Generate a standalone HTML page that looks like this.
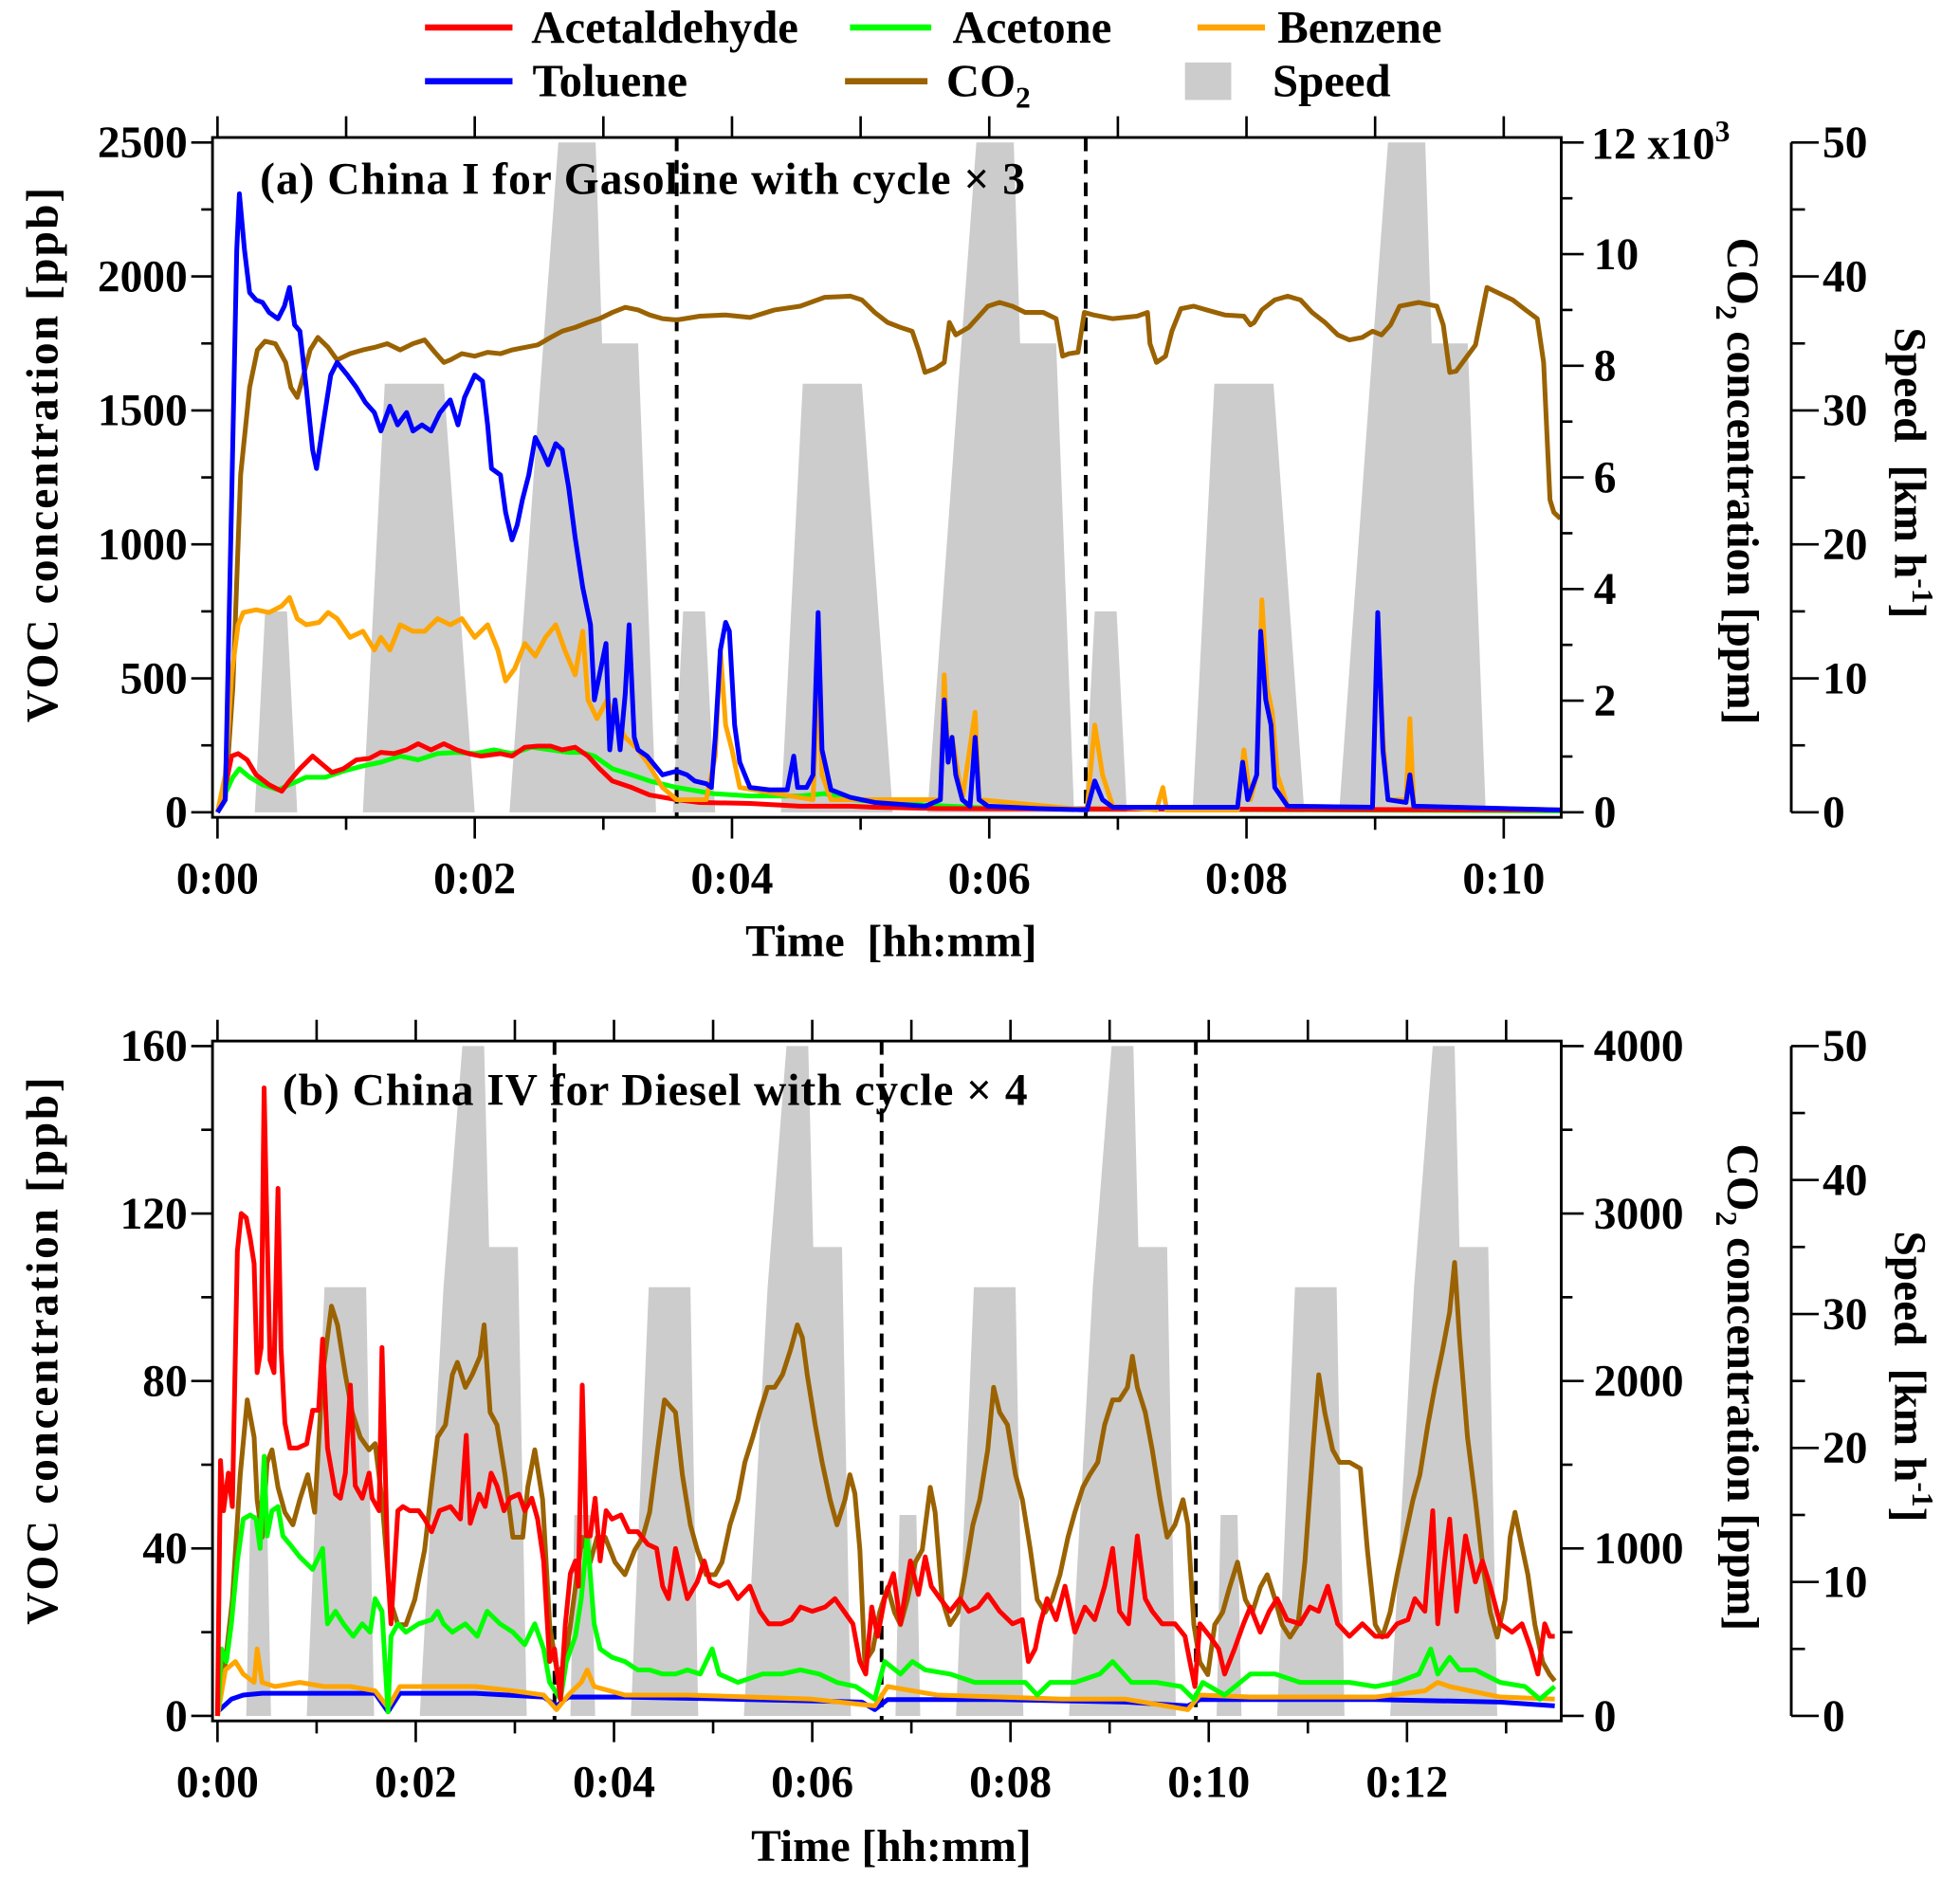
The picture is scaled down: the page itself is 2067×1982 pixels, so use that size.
<!DOCTYPE html>
<html><head><meta charset="utf-8"><style>
html,body{margin:0;padding:0;background:#fff;}
svg{display:block;font-family:"Liberation Serif",serif;font-weight:bold;}
</style></head><body>
<svg id="chart" xmlns="http://www.w3.org/2000/svg" width="2067" height="1982" viewBox="0 0 1568 1503.5" preserveAspectRatio="none">
<g id="speedA"></g>
<g id="speedB"></g>
<g id="linesA"></g>
<g id="linesB"></g>
<g id="axes"></g>
<g font-size="37">
 <line x1="340" y1="22" x2="410" y2="22" stroke="#ff0000" stroke-width="5"/>
 <text x="425" y="34">Acetaldehyde</text>
 <line x1="680" y1="22" x2="745" y2="22" stroke="#00ff00" stroke-width="5"/>
 <text x="762" y="34">Acetone</text>
 <line x1="958" y1="22" x2="1012" y2="22" stroke="#ffa500" stroke-width="5"/>
 <text x="1022" y="34">Benzene</text>
 <line x1="340" y1="65" x2="410" y2="65" stroke="#0000ff" stroke-width="5"/>
 <text x="426" y="77">Toluene</text>
 <line x1="676" y1="65" x2="742" y2="65" stroke="#9a6200" stroke-width="5"/>
 <text x="757" y="77">CO<tspan font-size="24" dy="9">2</tspan></text>
 <rect x="948" y="50" width="37" height="30" fill="#cccccc"/>
 <text x="1018" y="77">Speed</text>
</g>
<g font-size="36">
 <text x="208" y="155" textLength="612">(a) China I for Gasoline with cycle × 3</text>
 <text x="226" y="884" textLength="596">(b) China IV for Diesel with cycle × 4</text>
 <text transform="translate(46,364) rotate(-90)" text-anchor="middle" textLength="428">VOC concentration [ppb]</text>
 <text transform="translate(46,1081) rotate(-90)" text-anchor="middle" textLength="438">VOC concentration [ppb]</text>
 <text transform="translate(1382,385) rotate(90)" text-anchor="middle">CO<tspan font-size="24" dy="9">2</tspan><tspan dy="-9"> concentration [ppm]</tspan></text>
 <text transform="translate(1382,1110) rotate(90)" text-anchor="middle">CO<tspan font-size="24" dy="9">2</tspan><tspan dy="-9"> concentration [ppm]</tspan></text>
 <text transform="translate(1516,262) rotate(90)">Speed&#160;&#160;[km h<tspan font-size="24" dy="-14">-1</tspan><tspan dy="14">]</tspan></text>
 <text transform="translate(1516,985) rotate(90)">Speed&#160;&#160;[km h<tspan font-size="24" dy="-14">-1</tspan><tspan dy="14">]</tspan></text>
 <text x="713" y="765" text-anchor="middle">Time&#160;&#160;[hh:mm]</text>
 <text x="713" y="1489" text-anchor="middle">Time [hh:mm]</text>
 <text x="1273" y="127">12 x10<tspan font-size="24" dy="-14">3</tspan></text>
</g>
</svg>
<script>
// ---------- Panel A data (time in minutes) ----------
const aSpeedT=[0,0.29,0.37,0.54,0.62,1.13,1.30,1.76,2.00,2.27,2.51,2.65,2.94,2.99,3.27,3.41,3.54,3.62,3.79,3.87,4.38,4.55,5.01,5.25,5.52,5.76,5.90,6.19,6.24,6.52,6.66,6.74,6.82,6.99,7.07,7.58,7.75,8.21,8.45,8.72,8.96,9.10,9.39,9.44,9.72,9.86,10.44];
const aSpeedV=[0,0,15,15,0,0,32,32,0,0,32,50,50,35,35,0,0,15,15,0,0,32,32,0,0,32,50,50,35,35,0,0,15,15,0,0,32,32,0,0,32,50,50,35,35,0,0];
const aToluT=[0,0.06,0.11,0.15,0.17,0.21,0.25,0.30,0.35,0.40,0.47,0.52,0.56,0.60,0.64,0.69,0.74,0.77,0.82,0.88,0.93,1.01,1.08,1.15,1.22,1.27,1.34,1.40,1.47,1.52,1.59,1.66,1.73,1.81,1.87,1.92,2.00,2.06,2.10,2.13,2.20,2.24,2.29,2.33,2.37,2.42,2.47,2.52,2.57,2.63,2.68,2.73,2.78,2.84,2.90,2.93,2.97,3.02,3.05,3.09,3.13,3.17,3.20,3.24,3.27,3.34,3.46,3.57,3.65,3.71,3.80,3.84,3.87,3.91,3.95,3.98,4.02,4.06,4.14,4.29,4.43,4.48,4.51,4.58,4.63,4.67,4.70,4.77,4.92,5.11,5.50,5.62,5.65,5.68,5.71,5.74,5.79,5.85,5.89,5.92,5.99,6.38,6.76,6.82,6.88,6.96,7.93,7.97,8.01,8.08,8.11,8.15,8.19,8.22,8.32,8.98,9.02,9.06,9.10,9.24,9.27,9.30,10.44];
const aToluV=[0,47,1166,2099,2309,2099,1940,1912,1903,1866,1842,1889,1959,1819,1796,1586,1353,1283,1446,1632,1679,1632,1586,1530,1492,1423,1516,1446,1492,1423,1446,1423,1492,1539,1446,1548,1632,1609,1446,1283,1259,1119,1017,1073,1166,1259,1399,1353,1297,1376,1353,1213,1026,839,700,420,513,630,233,420,233,443,700,280,233,210,140,154,140,117,107,93,280,606,709,676,326,187,93,84,84,210,93,93,140,746,233,84,56,37,23,47,420,187,280,140,47,23,280,47,23,14,9,117,47,19,19,187,47,140,676,420,326,93,23,19,746,233,47,37,140,23,9];
const aBenzT=[0,0.06,0.11,0.16,0.20,0.30,0.40,0.50,0.56,0.62,0.69,0.79,0.86,0.93,1.03,1.13,1.22,1.27,1.34,1.42,1.52,1.61,1.71,1.81,1.90,2.00,2.10,2.18,2.24,2.31,2.39,2.47,2.55,2.63,2.70,2.78,2.84,2.88,2.95,3.03,3.09,3.17,3.27,3.34,3.46,3.57,3.80,3.87,3.91,3.95,4.00,4.06,4.63,4.67,4.70,4.77,5.62,5.65,5.68,5.71,5.79,5.89,5.92,6.76,6.82,6.88,6.96,7.30,7.35,7.38,7.93,7.98,8.03,8.08,8.12,8.16,8.20,8.24,8.32,8.98,9.02,9.06,9.10,9.24,9.27,9.30,10.44];
const aBenzV=[0,140,513,700,746,756,746,770,802,723,700,709,746,723,653,676,606,653,606,700,676,676,723,700,723,653,700,606,490,536,630,583,653,700,606,513,676,420,350,420,350,280,233,187,93,47,47,210,606,326,233,93,47,490,140,47,47,513,187,280,47,373,47,9,326,140,23,9,93,9,9,233,47,140,793,466,373,140,23,19,700,280,47,47,350,23,9];
const aAcetaT=[0,0.06,0.11,0.16,0.23,0.30,0.40,0.50,0.56,0.64,0.74,0.82,0.89,0.98,1.08,1.18,1.27,1.37,1.47,1.56,1.66,1.76,1.86,1.95,2.05,2.20,2.29,2.39,2.49,2.59,2.68,2.78,2.88,2.97,3.07,3.22,3.36,3.57,3.75,4.14,4.53,4.92,5.11,5.60,10.44];
const aAcetaV=[0,93,210,219,196,140,103,79,117,163,210,177,149,163,196,201,224,219,233,256,233,256,233,219,210,219,210,243,247,247,233,243,210,163,117,93,65,47,37,33,23,23,19,14,9];
const aAcetoT=[0,0.06,0.12,0.17,0.25,0.35,0.47,0.56,0.69,0.84,0.98,1.13,1.27,1.42,1.56,1.71,1.86,2.00,2.15,2.29,2.44,2.59,2.73,2.83,2.93,3.07,3.22,3.36,3.57,3.85,4.14,4.53,4.72,4.92,5.31,5.69,6.08,10.44];
const aAcetoV=[0,70,131,163,131,103,84,103,131,131,154,173,187,210,196,219,224,219,233,219,243,233,224,224,210,163,140,117,93,70,61,61,70,47,33,23,14,5];
const aCo2T=[0,0.06,0.12,0.18,0.25,0.31,0.37,0.45,0.53,0.57,0.62,0.67,0.72,0.78,0.86,0.93,1.03,1.13,1.22,1.32,1.42,1.52,1.61,1.69,1.76,1.81,1.90,2.00,2.10,2.20,2.29,2.39,2.49,2.59,2.68,2.78,2.88,2.97,3.07,3.17,3.27,3.36,3.46,3.57,3.75,3.95,4.14,4.33,4.53,4.72,4.92,5.01,5.11,5.21,5.31,5.40,5.45,5.50,5.58,5.65,5.69,5.74,5.84,5.99,6.08,6.18,6.28,6.42,6.52,6.57,6.62,6.69,6.74,6.81,6.96,7.15,7.23,7.25,7.30,7.37,7.42,7.49,7.59,7.69,7.83,7.98,8.03,8.06,8.12,8.22,8.32,8.42,8.51,8.61,8.71,8.80,8.90,8.98,9.05,9.12,9.19,9.34,9.48,9.53,9.58,9.63,9.68,9.78,9.87,9.97,10.07,10.17,10.26,10.31,10.36,10.39,10.44];
const aCo2V=[0,224,2239,6045,7613,8284,8441,8396,8060,7613,7433,7837,8284,8508,8329,8105,8217,8284,8329,8396,8284,8396,8463,8240,8060,8105,8217,8172,8240,8217,8284,8329,8374,8508,8620,8687,8777,8844,8956,9046,9001,8911,8844,8822,8889,8911,8866,9001,9068,9225,9247,9180,8956,8777,8687,8620,8284,7881,7949,8060,8777,8553,8687,9068,9135,9068,8956,8956,8844,8172,8217,8240,8956,8911,8844,8889,8956,8396,8060,8172,8620,9023,9068,9001,8911,8889,8732,8777,9001,9180,9247,9180,8956,8777,8553,8463,8508,8620,8553,8732,9068,9135,9068,8732,7881,7904,8060,8374,9404,9292,9180,9001,8844,8060,5598,5374,5262];
const aDashT=[3.57,6.75];
const aTimeLabels=["0:00","0:02","0:04","0:06","0:08","0:10"];
const aVocTicks=["0","500","1000","1500","2000","2500"];
const aCo2Ticks=["0","2","4","6","8","10",""];
const speedTicks=["0","10","20","30","40","50"];

// ---------- Panel B data ----------
const bSpeedT=[0,0.29,0.33,0.50,0.54,0.90,1.08,1.50,1.58,2.04,2.28,2.47,2.69,2.74,3.03,3.12,3.56,3.60,3.77,3.81,4.17,4.35,4.77,4.85,5.31,5.55,5.74,5.96,6.01,6.30,6.39,6.84,6.88,7.05,7.09,7.45,7.63,8.05,8.13,8.59,8.83,9.02,9.24,9.29,9.58,9.67,10.08,10.12,10.29,10.33,10.69,10.87,11.29,11.37,11.83,12.07,12.26,12.48,12.53,12.82,12.91,13.55];
const bSpeedV=[0,0,15,15,0,0,32,32,0,0,32,50,50,35,35,0,0,15,15,0,0,32,32,0,0,32,50,50,35,35,0,0,15,15,0,0,32,32,0,0,32,50,50,35,35,0,0,15,15,0,0,32,32,0,0,32,50,50,35,35,0,0];
const bRedT=[0,0.03,0.06,0.11,0.15,0.20,0.24,0.29,0.33,0.37,0.40,0.44,0.47,0.49,0.53,0.57,0.61,0.64,0.68,0.73,0.81,0.90,0.96,1.02,1.06,1.11,1.19,1.24,1.29,1.34,1.39,1.46,1.53,1.56,1.63,1.66,1.72,1.75,1.82,1.87,1.94,2.03,2.09,2.16,2.24,2.35,2.45,2.51,2.55,2.64,2.70,2.76,2.82,2.89,2.95,3.04,3.10,3.17,3.23,3.29,3.35,3.40,3.46,3.51,3.56,3.61,3.64,3.68,3.72,3.76,3.81,3.86,3.92,3.98,4.07,4.15,4.24,4.34,4.43,4.49,4.55,4.62,4.68,4.74,4.84,4.91,4.97,5.06,5.15,5.25,5.37,5.47,5.56,5.69,5.79,5.88,6.00,6.13,6.23,6.32,6.41,6.48,6.54,6.60,6.66,6.73,6.82,6.89,6.99,7.07,7.14,7.20,7.29,7.39,7.49,7.58,7.67,7.77,7.89,8.02,8.12,8.18,8.25,8.30,8.37,8.46,8.55,8.65,8.75,8.85,8.95,9.03,9.10,9.19,9.28,9.36,9.43,9.53,9.66,9.76,9.81,9.86,9.91,10.01,10.10,10.16,10.26,10.35,10.42,10.52,10.61,10.69,10.79,10.92,11.02,11.11,11.20,11.30,11.42,11.55,11.68,11.80,11.90,12.01,12.08,12.18,12.26,12.31,12.38,12.43,12.50,12.59,12.69,12.76,12.84,12.94,13.06,13.16,13.25,13.32,13.39,13.44,13.49];
const bRedV=[0,61,49,58,50,111,120,119,114,108,82,88,150,126,85,82,126,88,70,64,64,65,73,73,90,64,53,52,58,79,55,52,58,52,49,88,34,22,49,50,49,49,47,44,49,50,47,67,46,53,50,58,55,49,52,53,49,52,47,37,13,16,4,22,34,37,31,79,43,43,52,37,49,47,48,44,44,41,40,31,28,40,34,28,32,37,32,31,32,28,31,25,22,22,23,26,25,26,28,25,22,13,10,26,19,28,34,22,37,29,38,31,28,25,28,25,26,29,25,22,23,13,16,22,28,23,31,20,26,23,31,40,25,22,43,28,25,22,22,19,13,7,22,19,16,10,16,22,26,20,25,28,23,22,26,25,31,22,19,22,19,19,22,23,28,25,49,22,37,47,25,43,32,37,31,22,20,22,16,10,22,19,19];
const bGreenT=[0,0.04,0.09,0.14,0.20,0.26,0.33,0.39,0.43,0.47,0.50,0.55,0.61,0.66,0.73,0.83,0.96,1.06,1.11,1.19,1.27,1.37,1.46,1.54,1.59,1.66,1.72,1.75,1.82,1.90,2.03,2.16,2.22,2.28,2.37,2.50,2.62,2.72,2.85,2.98,3.10,3.20,3.29,3.35,3.46,3.52,3.61,3.67,3.73,3.80,3.86,3.98,4.11,4.24,4.36,4.49,4.62,4.74,4.87,4.99,5.06,5.25,5.50,5.69,5.88,6.07,6.25,6.44,6.57,6.63,6.73,6.89,7.01,7.14,7.39,7.64,7.89,8.15,8.27,8.40,8.65,8.90,9.03,9.22,9.47,9.72,9.85,9.94,10.16,10.42,10.67,10.92,11.17,11.42,11.68,11.90,12.12,12.24,12.31,12.43,12.53,12.69,12.94,13.19,13.34,13.49];
const bGreenV=[0,16,13,22,37,47,48,47,40,62,43,49,50,43,41,38,35,40,22,25,22,19,22,20,28,25,1,19,22,20,22,23,25,22,20,22,19,25,22,20,17,22,16,8,4,13,19,28,43,22,16,14,13,11,11,10,10,11,10,16,10,8,10,10,11,10,8,7,5,4,13,10,13,11,10,8,8,8,5,8,8,10,13,8,8,7,4,8,5,10,10,8,8,8,7,8,10,16,10,14,11,11,8,7,4,7];
const bOrangeT=[0,0.08,0.18,0.26,0.37,0.40,0.45,0.58,0.83,1.08,1.34,1.59,1.72,1.84,2.22,2.60,2.98,3.29,3.42,3.54,3.67,3.73,3.80,4.11,4.74,5.37,6.00,6.63,6.76,7.26,7.89,8.52,9.16,9.79,9.91,10.42,11.05,11.68,12.18,12.31,12.43,12.94,13.49];
const bOrangeV=[0,11,13,10,8,16,8,7,8,7,7,6,2,7,7,7,6,5,1.5,5,8,11,7,5,5,4.5,4,2.4,7,5,4.5,4,4,1.5,5,4.5,4.5,4.5,6,8,7,4.5,4];
const bBlueT=[0,0.14,0.26,0.45,0.83,1.59,1.72,1.84,2.60,3.29,3.42,3.54,4.11,5.37,6.50,6.63,6.76,7.89,9.16,9.79,9.91,11.68,12.94,13.49];
const bBlueV=[1,4,5,5.4,5.4,5.4,1,5.4,5.4,4.5,2.4,4.5,4.5,3.9,3.3,1.5,3.9,3.9,3.3,2.4,3.9,3.9,3.3,2.4];
const bCo2T=[0,0.08,0.15,0.23,0.30,0.37,0.40,0.45,0.50,0.55,0.61,0.68,0.76,0.83,0.91,0.98,1.06,1.15,1.21,1.29,1.36,1.44,1.53,1.59,1.66,1.74,1.82,1.90,1.99,2.09,2.16,2.22,2.30,2.37,2.42,2.50,2.57,2.65,2.69,2.75,2.82,2.90,2.98,3.08,3.13,3.20,3.28,3.35,3.43,3.51,3.61,3.68,3.76,3.83,3.91,4.01,4.11,4.21,4.29,4.36,4.44,4.51,4.62,4.69,4.77,4.84,4.93,5.02,5.09,5.17,5.25,5.32,5.40,5.47,5.55,5.62,5.70,5.78,5.85,5.90,5.95,6.03,6.10,6.18,6.25,6.33,6.38,6.43,6.48,6.53,6.61,6.68,6.76,6.83,6.89,6.96,7.04,7.11,7.19,7.24,7.31,7.39,7.47,7.54,7.62,7.69,7.77,7.83,7.89,7.97,8.05,8.12,8.20,8.27,8.35,8.42,8.50,8.58,8.65,8.73,8.80,8.88,8.95,9.03,9.10,9.18,9.23,9.28,9.36,9.43,9.51,9.58,9.66,9.74,9.79,9.85,9.91,9.99,10.06,10.14,10.21,10.29,10.37,10.44,10.52,10.59,10.67,10.74,10.82,10.90,10.97,11.05,11.11,11.17,11.25,11.32,11.42,11.53,11.60,11.68,11.75,11.83,11.90,11.98,12.06,12.13,12.21,12.28,12.36,12.43,12.48,12.53,12.61,12.69,12.76,12.84,12.91,12.99,13.04,13.09,13.14,13.22,13.29,13.37,13.44,13.49];
const bCo2V=[0,321,694,1440,1887,1664,1291,1067,1514,1589,1365,1216,1141,1291,1440,1216,2037,2447,2335,2037,1813,1664,1589,1626,1291,694,545,545,694,992,1365,1664,1738,2037,2111,1962,2037,2148,2335,1813,1738,1440,1067,1067,1365,1589,1291,545,246,321,768,1067,918,1067,1067,918,843,992,1067,1216,1589,1887,1813,1440,1141,992,843,843,918,1141,1291,1514,1664,1813,1962,1962,2037,2186,2335,2260,2037,1738,1514,1291,1141,1291,1440,1328,992,321,395,619,768,619,545,694,918,992,1365,1216,694,545,619,843,1141,1291,1589,1962,1813,1738,1440,1291,992,694,619,694,843,1067,1216,1365,1440,1514,1738,1887,1887,1962,2148,1962,1813,1589,1291,1067,1141,1291,1141,545,321,246,545,619,768,918,694,619,768,843,694,545,470,545,918,1589,2037,1813,1589,1514,1514,1477,992,545,470,619,843,1067,1291,1440,1738,1962,2186,2410,2708,2260,1664,1291,918,619,470,694,1067,1216,1067,843,545,321,246,209];
const bDashT=[3.40,6.70,9.87];
const bTimeLabels=["0:00","0:02","0:04","0:06","0:08","0:10","0:12"];
const bVocTicks=["0","40","80","120","160"];
const bCo2Ticks=["0","1000","2000","3000","4000"];

// ---------- axis functions ----------
const A={x0:174,pxMin:102.9,y0:650,yTop:114,vocMax:2500,co2Max:12000,tMax:10.44};
const B={x0:174,pxMin:79.3,y0:1373,yTop:837,vocMax:160,co2Max:4000,tMax:13.55};
function xs(P,t){return P.x0+t*P.pxMin;}
function yv(P,v){return P.y0-v*(P.y0-P.yTop)/P.vocMax;}
function yc(P,c){return P.y0-c*(P.y0-P.yTop)/P.co2Max;}
function ysp(P,s){return P.y0-s*(P.y0-P.yTop)/50;}
const NS="http://www.w3.org/2000/svg";
function mk(tag,parent,attrs){const e=document.createElementNS(NS,tag);for(const k in attrs)e.setAttribute(k,attrs[k]);parent.appendChild(e);return e;}

function speedArea(P,T,V,gid){
  const g=document.getElementById(gid);
  let pts=[];
  for(let i=0;i<T.length;i++)pts.push(xs(P,T[i]).toFixed(1)+","+ysp(P,V[i]).toFixed(1));
  const p=mk("polygon",g,{points:pts.join(" "),fill:"#cccccc",stroke:"none"});
  
  
}
function line(P,T,V,yf,color,gid,name){
  const g=document.getElementById(gid);
  const n=Math.min(T.length,V.length);let pts=[];
  for(let i=0;i<n;i++)pts.push(xs(P,T[i]).toFixed(1)+","+yf(P,V[i]).toFixed(1));
  const p=mk("polyline",g,{points:pts.join(" "),fill:"none",stroke:color,"stroke-width":3.8,"stroke-linejoin":"round"});
  
  
}
speedArea(A,aSpeedT,aSpeedV,"speedA");
speedArea(B,bSpeedT,bSpeedV,"speedB");

function dashes(P,D,gid){
  const g=document.getElementById(gid);
  D.forEach(t=>{
    const l=mk("line",g,{x1:xs(P,t),x2:xs(P,t),y1:P.yTop-4,y2:P.y0+4,stroke:"#000","stroke-width":3,"stroke-dasharray":"11,7"});
    
    
  });
}
dashes(A,aDashT,"speedA");dashes(B,bDashT,"speedB");

line(A,aCo2T,aCo2V,yc,"#9a6200","linesA","co2-line-a");
line(A,aAcetoT,aAcetoV,yv,"#00ff00","linesA","acetone-line-a");
line(A,aAcetaT,aAcetaV,yv,"#ff0000","linesA","acetaldehyde-line-a");
line(A,aBenzT,aBenzV,yv,"#ffa500","linesA","benzene-line-a");
line(A,aToluT,aToluV,yv,"#0000ff","linesA","toluene-line-a");
line(B,bCo2T,bCo2V,yc,"#9a6200","linesB","co2-line-b");
line(B,bBlueT,bBlueV,yv,"#0000ff","linesB","toluene-line-b");
line(B,bOrangeT,bOrangeV,yv,"#ffa500","linesB","benzene-line-b");
line(B,bGreenT,bGreenV,yv,"#00ff00","linesB","acetone-line-b");
line(B,bRedT,bRedV,yv,"#ff0000","linesB","acetaldehyde-line-b");

// ---------- axes ----------
const ax=document.getElementById("axes");
function txt(x,y,s,anchor,name){const t=mk("text",ax,{x:x,y:y,"font-size":36,"text-anchor":anchor});t.textContent=s;
  
  return t;}
function panelAxes(P,timeLabels,vocTicks,co2Ticks,tag){
  const L=170,R=1249,top=P.yTop-4,bot=P.y0+4;
  const box=mk("rect",ax,{x:L,y:top,width:R-L,height:bot-top,fill:"none",stroke:"#000","stroke-width":2.2});
  
  
  const nMin=Math.floor(P.tMax);
  for(let m=0;m<=nMin;m++){
    const x=xs(P,m);
    mk("line",ax,{x1:x,x2:x,y1:top,y2:top-17,stroke:"#000","stroke-width":2});
    mk("line",ax,{x1:x,x2:x,y1:bot,y2:bot+(m%2==0?17:10),stroke:"#000","stroke-width":2});
  }
  timeLabels.forEach((s,i)=>txt(xs(P,i*2),P.y0+65,s,"middle","x-tick-label-"+tag));
  const nv=vocTicks.length-1;
  for(let i=0;i<=nv*2;i++){const y=P.y0-(P.y0-P.yTop)*i/(nv*2);
    mk("line",ax,{x1:L,x2:L-(i%2==0?17:9),y1:y,y2:y,stroke:"#000","stroke-width":2});}
  vocTicks.forEach((s,i)=>txt(150,P.y0-(P.y0-P.yTop)*i/nv+12,s,"end","voc-tick-label-"+tag));
  const nc=co2Ticks.length-1;
  for(let i=0;i<=nc*2;i++){const y=P.y0-(P.y0-P.yTop)*i/(nc*2);
    mk("line",ax,{x1:R,x2:R+(i%2==0?18:9),y1:y,y2:y,stroke:"#000","stroke-width":2});}
  co2Ticks.forEach((s,i)=>{if(s)txt(1275,P.y0-(P.y0-P.yTop)*i/nc+12,s,"start","co2-tick-label-"+tag);});
  const sl=mk("line",ax,{x1:1433,x2:1433,y1:P.yTop,y2:P.y0,stroke:"#000","stroke-width":2.2});
  
  
  for(let i=0;i<=10;i++){const y=P.y0-(P.y0-P.yTop)*i/10;
    mk("line",ax,{x1:1433,x2:1433+(i%2==0?22:11),y1:y,y2:y,stroke:"#000","stroke-width":2});}
  speedTicks.forEach((s,i)=>txt(1458,P.y0-(P.y0-P.yTop)*i/5+12,s,"start","speed-tick-label-"+tag));
}
panelAxes(A,aTimeLabels,aVocTicks,aCo2Ticks,"a");
panelAxes(B,bTimeLabels,bVocTicks,bCo2Ticks,"b");
</script>
</body></html>
